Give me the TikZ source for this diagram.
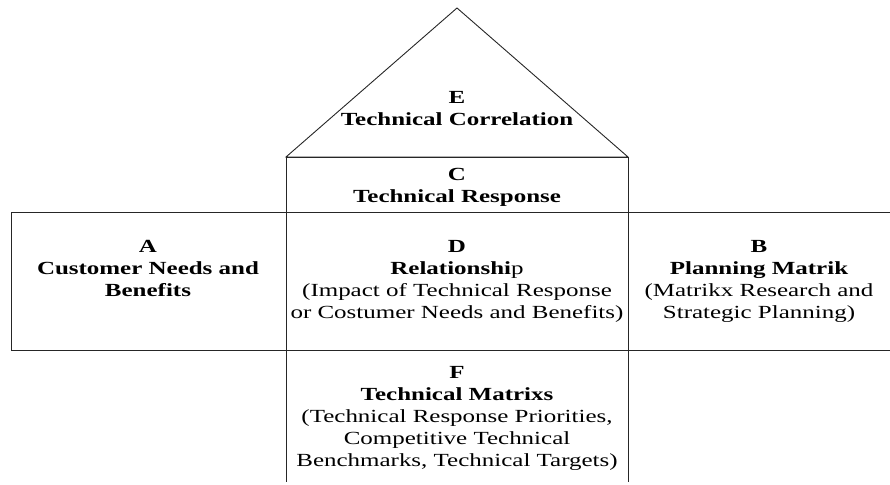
\documentclass[tikz,border=0pt]{standalone}
\usepackage{fontspec}
\setmainfont{Liberation Serif}[FakeStretch=1.35]
\usepackage{tikz}
\usetikzlibrary{calc}

\begin{document}
\begin{tikzpicture}[x=1pt,y=1pt,
		txt/.style={align=center,anchor=north,inner sep=0pt,font=\fontsize{18.5}{22}\selectfont},
		wall/.style={line width=0.9pt,draw=black!85}]
	\useasboundingbox (0,0) rectangle (890,484);
	% frame of the house
	\coordinate (top) at (457,476);
	\coordinate (roofL) at (286,327);
	\coordinate (roofR) at (628,327);
	\coordinate (midL) at (286,272);
	\coordinate (midR) at (628,272);
	\coordinate (lowL) at (286,134);
	\coordinate (lowR) at (628,134);
	\draw[wall] (roofL) -- (top) -- (roofR) -- cycle;
	\draw[wall] (roofL) rectangle (midR);
	\draw[wall] (11,272) rectangle (lowL);
	\draw[wall] (midL) rectangle (lowR);
	\draw[wall] (midR) -- (890,272) (lowR) -- (890,134);
	\draw[wall] (lowL) -- (286,2) (lowR) -- (628,2);
	% room texts
	\node[txt] (E) at (457,393) {\textbf{E}\\\textbf{Technical Correlation}};
	\node[txt] (C) at (457,316) {\textbf{C}\\\textbf{Technical Response}};
	\node[txt] (A) at (148,244) {\textbf{A}\\\textbf{Customer Needs and}\\\textbf{Benefits}};
	\node[txt] (D) at (457,244) {\textbf{D}\\\textbf{Relationshi}p\\(Impact of Technical Response\\or Costumer Needs and Benefits)};
	\node[txt] (B) at (759,244) {\textbf{B}\\\textbf{Planning Matrik}\\(Matrikx Research and\\Strategic Planning)};
	\node[txt] (F) at (457,118) {\textbf{F}\\\textbf{Technical Matrixs}\\(Technical Response Priorities,\\Competitive Technical\\Benchmarks, Technical Targets)};
\end{tikzpicture}
\end{document}
